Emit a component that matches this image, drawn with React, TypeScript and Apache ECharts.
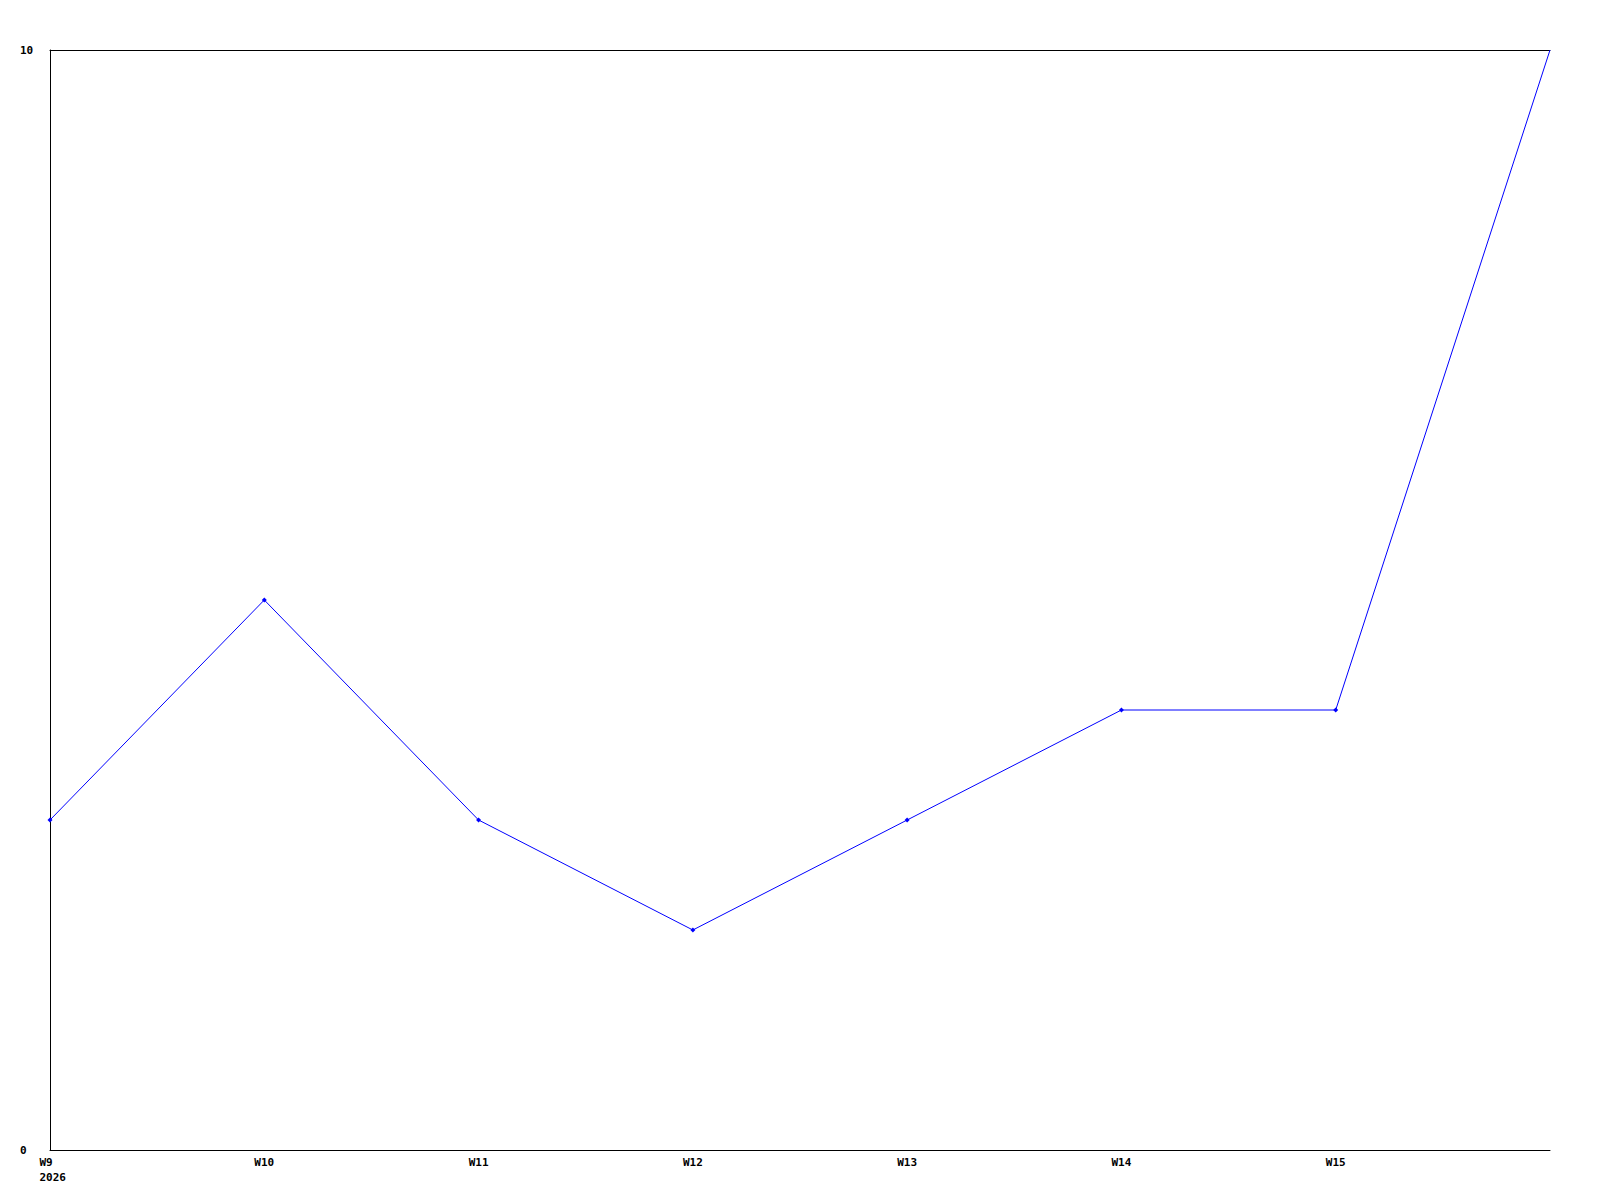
import React, { useEffect, useRef } from "react";
import * as echarts from "echarts";

const categories = ["W9", "W10", "W11", "W12", "W13", "W14", "W15", "W16"];
const categoryLabels = ["{first|W9}\n{first|2026}", "W10", "W11", "W12", "W13", "W14", "W15", ""];
const values = [3, 5, 3, 2, 3, 4, 4, 10];
const yTicks = [0, 10];

export default function App() {
  const ref = useRef<HTMLDivElement>(null);
  useEffect(() => {
    if (!ref.current) return;
    const chart = echarts.init(ref.current, undefined, { renderer: "svg" });
    const font = { fontFamily: "DejaVu Sans Mono", fontWeight: "bold", fontSize: 11, color: "#000" };
    chart.setOption({
      animation: false,
      backgroundColor: "#fff",
      grid: { left: 50, right: 50, top: 50, bottom: 50 },
      xAxis: [
        {
          type: "category",
          data: categories,
          boundaryGap: false,
          axisLine: { show: true, lineStyle: { color: "#000", width: 1 } },
          axisTick: { show: false },
          splitLine: { show: false },
          axisLabel: {
            ...font,
            interval: 0,
            margin: 5,
            lineHeight: 15,
            align: "center",
            formatter: (_v: string, i: number) => categoryLabels[i],
            rich: {
              first: {
                ...font,
                lineHeight: 15,
                width: 27,
                align: "left",
                padding: [0, 0, 0, 6],
              },
            },
          },
        },
        {
          type: "category",
          data: categories,
          boundaryGap: false,
          position: "top",
          axisLine: { show: true, lineStyle: { color: "#000", width: 1 } },
          axisTick: { show: false },
          axisLabel: { show: false },
          splitLine: { show: false },
        },
      ],
      yAxis: {
        type: "value",
        min: yTicks[0],
        max: yTicks[yTicks.length - 1],
        interval: yTicks[1] - yTicks[0],
        axisLine: { show: true, lineStyle: { color: "#000", width: 1 } },
        axisTick: { show: false },
        splitLine: { show: false },
        axisLabel: { ...font, align: "left", margin: 30 },
      },
      series: [
        {
          type: "line",
          data: values.map((v, i) =>
            i === values.length - 1 ? { value: v, symbol: "none" } : v
          ),
          symbol: "diamond",
          symbolSize: 5,
          showAllSymbol: true,
          clip: false,
          lineStyle: { color: "#0000ff", width: 1 },
          itemStyle: { color: "#0000ff" },
        },
      ],
    });
    return () => chart.dispose();
  }, []);
  return (
    <div
      ref={ref}
      style={{ position: "fixed", left: 0, top: 0, width: 1600, height: 1200 }}
    />
  );
}
